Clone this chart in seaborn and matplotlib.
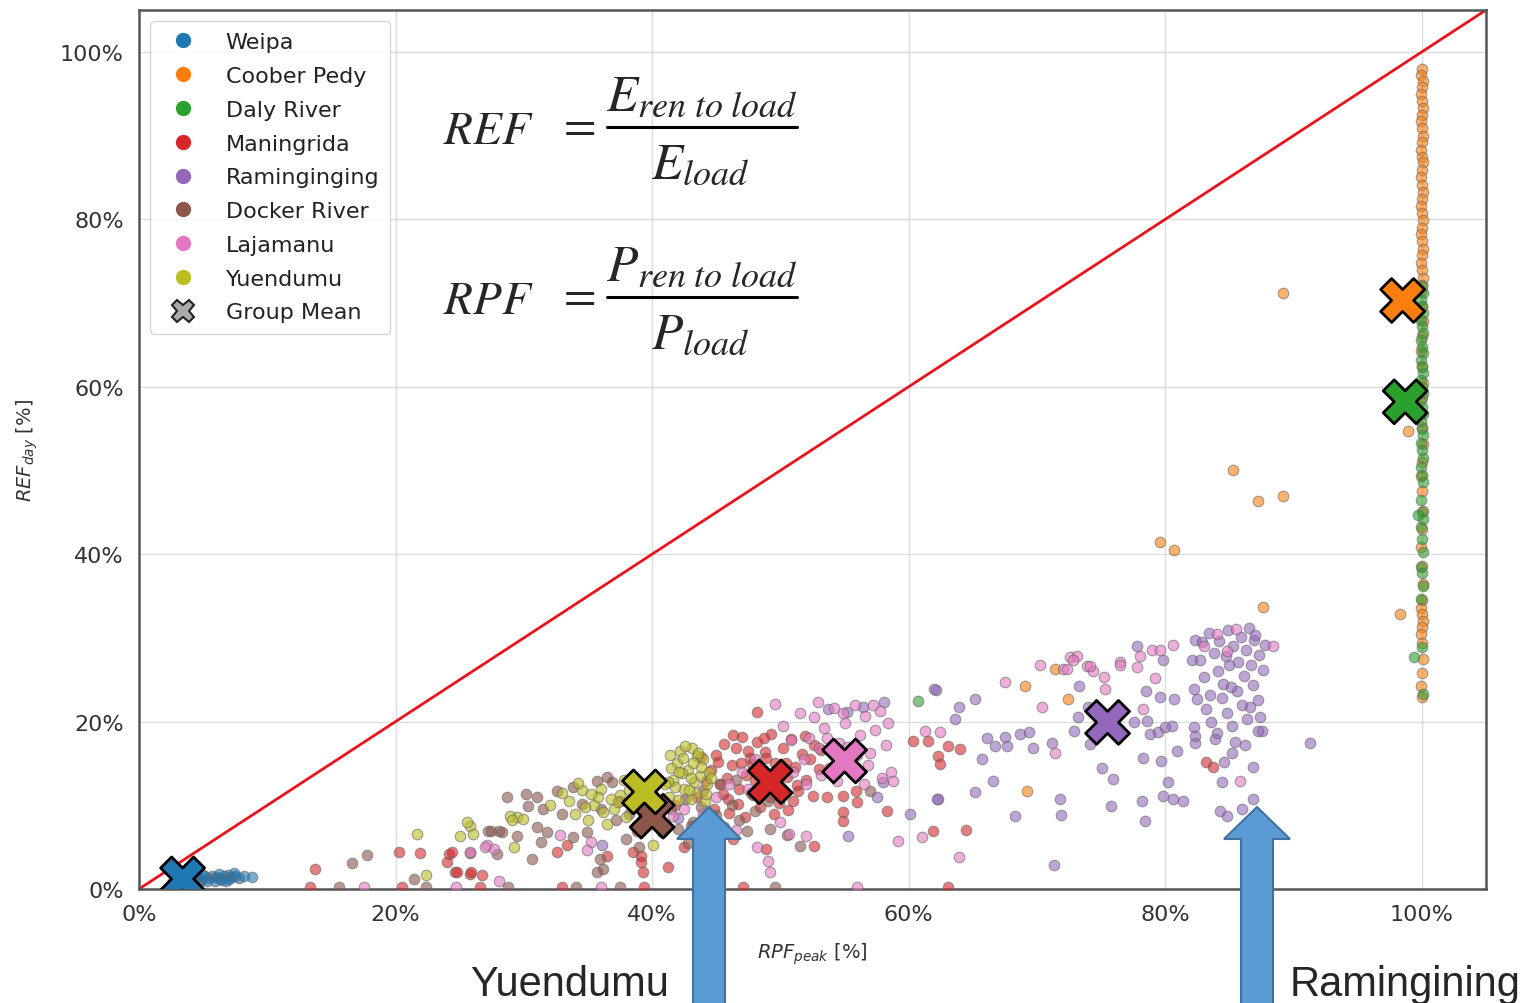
import numpy as np
import pandas as pd
import matplotlib
matplotlib.use("Agg")
import matplotlib.pyplot as plt
import seaborn as sns
from matplotlib.lines import Line2D
from matplotlib.patches import Polygon
from matplotlib.transforms import Affine2D
from matplotlib.ticker import FuncFormatter

# ---------------- data (percent) ----------------
groups = ["Weipa", "Coober Pedy", "Daly River", "Maningrida", "Raminginging",
          "Docker River", "Lajamanu", "Yuendumu"]
colors = ["#1f77b4", "#ff7f0e", "#2ca02c", "#d62728", "#9467bd",
          "#8c564b", "#e377c2", "#bcbd22"]

weipa_x = [2.6, 3.0, 3.3, 3.6, 3.9, 4.2, 4.5, 4.8, 5.1, 5.4, 5.7, 6.0, 6.3, 6.6, 6.9, 7.2, 7.5, 7.8, 8.2, 8.8,
           4.0, 4.7, 5.3, 5.9, 6.5, 7.0, 3.5, 4.4, 5.0, 6.2, 6.8, 7.4]
weipa_y = [0.7, 0.9, 1.1, 1.0, 1.3, 1.2, 1.4, 1.1, 1.5, 1.3, 1.6, 1.4, 1.2, 1.5, 1.7, 1.4, 1.6, 1.3, 1.5, 1.4,
           0.6, 0.8, 0.9, 1.0, 1.1, 1.2, 1.6, 1.8, 1.7, 1.8, 1.0, 1.9]

coober_x = [100.0, 99.9, 100.1, 100.0, 99.9, 100.0, 100.1, 100.0, 99.9, 100.0, 100.1, 100.0, 99.9, 100.0,
            100.1, 100.0, 99.9, 100.0, 100.1, 100.0, 99.9, 100.0, 100.1, 100.0, 99.9, 100.0, 100.1, 100.0,
            99.9, 100.0, 100.1, 100.0, 99.9, 100.0, 100.1, 100.0, 99.9, 100.0, 100.1, 100.0, 99.9, 100.0,
            100.1, 100.0, 99.9, 100.0, 100.1, 100.0, 99.9, 100.0, 100.1, 100.0, 99.9, 100.0, 100.1, 100.0,
            99.9, 100.0, 100.1, 100.0, 99.9, 100.0,
            89.2, 85.3, 87.2, 89.2, 79.6, 80.7, 87.6, 98.3, 98.9, 69.1, 69.2, 71.4, 72.4]
coober_y = [98.0, 97.2, 96.5, 95.8, 95.0, 94.1, 93.3, 92.5, 91.8, 90.9, 90.0, 89.2, 88.3, 87.5,
            86.8, 85.9, 85.0, 84.1, 83.3, 82.4, 81.6, 80.8, 79.9, 79.0, 78.2, 77.4, 76.5, 75.7,
            74.8, 73.9, 73.0, 72.2, 71.4, 69.5, 67.8, 66.0, 64.3, 62.5, 60.4, 58.8, 56.9, 55.2,
            53.1, 51.0, 49.3, 47.6, 45.2, 43.0, 40.9, 38.6, 36.4, 34.5, 33.6, 32.8, 32.0, 31.3,
            30.5, 29.4, 27.5, 25.8, 24.3, 22.9,
            71.2, 50.1, 46.3, 47.0, 41.4, 40.5, 33.7, 32.9, 54.7, 24.2, 11.7, 26.3, 22.7]

daly_x = [100.0, 100.1, 99.9, 100.0, 100.1, 99.9, 100.0, 100.1, 99.9, 100.0, 100.1, 99.9, 100.0, 100.1,
          99.9, 100.0, 100.1, 99.9, 100.0, 100.1, 99.9, 100.0, 100.1, 99.9, 100.0, 100.1, 99.9, 100.0,
          100.1, 99.9, 100.0, 100.1, 99.9, 100.0, 100.1, 99.9, 100.0, 100.1, 99.9, 100.0, 100.1,
          99.4, 60.7, 99.7]
daly_y = [72.0, 71.2, 70.4, 69.6, 68.8, 68.0, 67.2, 66.4, 65.6, 64.8, 64.0, 63.2, 62.4, 61.6,
          60.8, 60.0, 59.2, 58.4, 57.6, 56.8, 55.9, 55.0, 54.2, 53.3, 52.4, 51.5, 50.4, 49.5,
          48.6, 46.5, 45.0, 44.2, 43.3, 41.8, 40.2, 38.5, 37.8, 36.2, 34.6, 28.9, 23.3,
          27.7, 22.4, 44.7]

maning_x = [44.6, 45.0, 45.3, 45.6, 45.9, 46.2, 46.5, 46.8, 47.0, 47.3, 47.6, 47.9, 48.2, 48.5, 48.8, 49.0,
            49.3, 49.6, 49.9, 50.2, 50.5, 50.8, 51.1, 51.4, 51.7, 52.0, 52.3, 44.8, 46.0, 47.2, 48.4, 49.5,
            50.6, 45.5, 46.7, 48.0, 49.2, 50.0, 51.0, 47.5, 48.7, 46.3, 45.1, 50.4, 51.9, 52.6, 53.2, 53.0,
            44.2, 43.8, 45.8, 47.8, 49.7, 51.3, 46.9, 48.9,
            52.5, 53.6, 54.9, 55.9, 54.9, 54.9, 56.0, 58.3, 52.6, 48.9, 46.3, 48.2, 60.3, 61.5, 63.1, 64.0,
            62.3, 62.4, 61.9, 64.5, 83.2, 83.7,
            13.7, 20.3, 21.9, 24.2, 24.6, 25.8, 26.7, 24.4, 24.0, 24.8, 25.9, 32.6, 33.4, 36.5, 38.5, 39.1,
            39.1, 39.3, 41.2, 38.8, 42.5, 43.0, 41.8, 43.5, 40.5,
            13.3, 20.5, 26.6, 33.0, 39.4, 47.1, 63.1]
maning_y = [14.2, 16.0, 12.5, 17.3, 10.8, 14.8, 16.9, 12.0, 18.2, 13.6, 15.7, 11.2, 17.6, 14.1, 16.4, 12.6,
            18.5, 15.1, 10.3, 16.8, 13.4, 17.9, 14.6, 11.7, 16.1, 13.0, 15.5, 9.6, 9.1, 8.6, 9.8, 8.9,
            9.4, 11.4, 10.2, 13.0, 11.0, 12.0, 10.5, 16.5, 18.0, 18.4, 15.2, 15.0, 18.3, 17.2, 16.6, 14.3,
            12.9, 15.8, 13.3, 14.9, 13.9, 12.4, 15.0, 15.6,
            11.1, 11.0, 11.1, 11.7, 9.2, 8.1, 10.4, 9.3, 5.1, 4.8, 6.0, 21.2, 17.7, 17.7, 17.1, 16.7,
            15.9, 14.9, 6.9, 7.0, 15.2, 14.6,
            2.4, 4.4, 4.3, 4.2, 2.0, 1.8, 1.7, 4.4, 3.2, 2.0, 2.0, 4.4, 5.2, 4.0, 4.4, 4.0,
            3.2, 2.0, 2.6, 6.9, 5.0, 7.5, 10.0, 11.0, 7.5,
            0.2, 0.2, 0.2, 0.2, 0.2, 0.2, 0.2]

ramin_x = [82.3, 82.9, 82.1, 82.7, 82.2, 82.5, 82.2, 82.3, 83.4, 83.8, 84.1, 84.5, 84.9, 85.3, 85.7, 86.1,
           86.5, 86.9, 87.3, 87.6, 83.2, 83.6, 84.0, 84.4, 84.8, 85.2, 85.6, 86.0, 86.4, 86.8, 87.2, 87.5,
           83.0, 85.0, 86.3, 87.0, 84.2, 85.9, 86.7, 83.5, 85.4, 86.2, 87.4, 84.7, 83.9, 87.8, 86.6, 85.1,
           71.2, 71.8, 71.9, 75.1, 75.9, 75.8, 78.2, 78.4, 78.3, 79.7, 80.2, 79.8, 80.6, 81.4, 80.9, 82.3,
           84.6, 85.2, 84.4, 86.8, 86.8, 86.0, 84.3, 84.8, 91.3, 87.2, 73.3, 74.0, 73.2, 72.9, 74.1, 77.6,
           78.6, 78.8, 79.4, 80.0, 80.5, 78.5, 79.6, 80.7, 79.8, 77.8, 62.1, 63.9, 63.6, 65.2, 66.1, 66.7,
           67.5, 67.7, 68.7, 69.4, 69.7, 65.7, 66.6, 65.2, 62.3, 60.1, 68.3, 71.3, 57.5, 58.0, 55.3, 53.7,
           55.2, 56.4, 58.1, 62.0, 62.2, 36.1, 42.0]
ramin_y = [29.8, 29.5, 27.4, 27.4, 23.9, 22.7, 19.3, 18.3, 30.6, 28.2, 26.0, 24.5, 30.9, 29.0, 27.1, 25.4,
           31.2, 29.8, 27.9, 26.2, 21.5, 20.0, 18.6, 22.8, 21.0, 19.5, 23.6, 22.0, 20.3, 24.4, 22.6, 18.9,
           25.3, 26.7, 28.5, 30.4, 29.6, 30.1, 26.8, 23.2, 17.6, 17.2, 20.6, 27.8, 17.9, 29.1, 21.7, 24.1,
           17.5, 10.7, 8.8, 14.5, 13.1, 9.9, 10.5, 8.1, 15.7, 15.3, 12.8, 11.1, 10.7, 10.5, 16.5, 17.5,
           15.2, 16.3, 12.8, 14.6, 10.8, 9.5, 9.3, 8.7, 17.5, 18.9, 24.2, 21.7, 20.5, 18.9, 17.3, 19.9,
           20.1, 18.5, 18.7, 19.3, 19.5, 23.6, 22.9, 22.7, 27.4, 29.0, 23.8, 21.7, 20.3, 22.7, 18.0, 17.1,
           18.1, 17.1, 18.5, 18.7, 16.9, 15.5, 12.9, 11.6, 10.7, 8.9, 8.7, 2.9, 11.0, 12.8, 6.3, 21.5,
           21.2, 21.8, 22.3, 23.9, 10.7, 5.2, 8.5]

docker_x = [16.6, 17.8, 21.4, 25.8, 27.2, 28.1, 29.5, 28.7, 30.2, 31.0, 30.3, 31.5, 32.6, 33.8, 35.7, 36.5,
            36.9, 27.4, 28.3, 31.0, 31.8, 27.9, 30.6, 31.3, 34.9, 35.9, 36.2, 35.7, 38.0, 33.8,
            37.5, 38.2, 38.9, 39.5, 40.2, 40.8, 41.5, 42.0, 42.6, 43.2, 43.8, 44.4, 45.0, 45.6, 46.2, 46.8,
            47.4, 48.0, 44.0, 45.3, 46.5, 47.7, 51.5, 49.2, 42.8, 39.0, 37.2, 36.0, 34.5, 33.0, 57.0, 50.5,
            49.0,
            15.6, 22.4, 28.8, 34.1, 37.5, 49.6]
docker_y = [3.1, 4.1, 1.2, 4.3, 6.9, 6.9, 6.3, 11.0, 11.3, 11.0, 9.9, 9.5, 11.7, 12.2, 12.9, 13.4,
            12.8, 6.9, 6.8, 7.4, 6.8, 4.2, 3.6, 5.6, 6.8, 3.6, 2.4, 2.0, 6.0, 6.2,
            10.5, 9.0, 11.5, 7.8, 10.2, 6.8, 9.5, 7.2, 10.8, 8.0, 9.8, 6.5, 8.8, 7.4, 10.0, 8.2,
            6.9, 9.3, 11.8, 12.5, 13.0, 11.5, 5.1, 7.2, 5.5, 5.0, 8.2, 9.5, 10.2, 9.0, 11.7, 6.5,
            10.5,
            0.2, 0.2, 0.2, 0.2, 0.2, 0.2]

laja_x = [51.8, 52.2, 52.6, 53.0, 53.4, 53.8, 54.2, 54.6, 55.0, 55.4, 55.8, 56.2, 56.6, 57.0, 57.4, 57.8,
          58.2, 58.6, 53.2, 54.4, 55.6, 56.8, 57.9, 51.5, 52.9, 54.9, 56.0, 57.2, 58.4, 50.8, 50.2, 49.6,
          51.0, 52.0, 53.6, 55.2, 58.8, 56.5,
          41.6, 42.5, 43.5, 44.0, 45.0, 46.0, 47.0, 48.0, 47.5, 46.5, 50.7, 50.0, 48.2, 49.0, 49.2, 52.0,
          61.0, 59.2, 61.3, 62.4, 63.9, 27.1, 32.8, 35.2, 34.9, 28.1, 27.0, 27.7, 25.8,
          67.5, 70.2, 70.4, 72.0, 72.6, 73.1, 73.9, 74.4, 75.2, 75.3, 76.5, 78.3, 71.4, 72.3, 72.8, 74.1,
          76.5, 78.0, 79.0, 79.6, 80.6, 77.8, 79.2, 85.8, 88.4, 84.0, 85.5, 84.8, 83.0,
          17.5, 24.7, 36.0, 56.0]
laja_y = [15.5, 18.0, 20.5, 16.8, 19.2, 14.5, 21.6, 17.5, 19.8, 15.2, 22.0, 18.4, 20.7, 16.3, 19.0, 21.3,
          17.2, 14.0, 13.6, 12.9, 13.8, 14.8, 13.2, 21.0, 22.3, 21.0, 16.0, 22.0, 19.8, 17.8, 19.5, 22.1,
          14.0, 12.6, 18.0, 17.0, 12.9, 12.5,
          8.7, 9.5, 7.8, 9.0, 11.0, 12.5, 14.0, 15.5, 12.0, 7.0, 6.6, 8.0, 5.0, 3.3, 2.0, 6.3,
          6.2, 5.7, 18.9, 18.7, 3.8, 5.2, 6.4, 5.6, 4.6, 1.0, 5.0, 4.8, 4.4,
          24.7, 26.7, 21.7, 26.3, 27.7, 27.8, 26.6, 26.0, 25.3, 23.9, 27.1, 21.5, 16.3, 26.3, 27.4, 26.6,
          26.8, 27.8, 28.6, 28.6, 29.2, 26.5, 25.2, 12.9, 29.0, 30.5, 31.0, 28.4, 29.0,
          0.2, 0.2, 0.2, 0.2]

yuen_x = [41.3, 41.6, 41.9, 42.2, 42.5, 42.8, 43.1, 43.4, 43.7, 44.0, 44.3, 42.0, 43.0, 44.1, 42.6, 43.5,
          41.5, 44.4, 42.3, 43.3, 41.8, 42.4, 43.0, 43.6, 44.2, 41.4, 42.9, 43.8, 42.1, 44.6, 41.2, 43.2,
          33.5, 34.0, 34.5, 35.0, 35.5, 36.0, 36.5, 37.0, 37.5, 38.0, 38.5, 39.0, 39.5, 40.0, 40.5, 41.0,
          34.2, 35.8, 37.8, 36.8, 33.0, 32.0, 38.8, 40.6, 36.2, 37.3, 38.2, 39.2, 35.2, 34.8, 39.8, 38.6,
          29.5, 28.9, 29.9, 29.1, 25.8, 25.0, 26.0, 21.7, 22.4, 25.6, 29.2, 40.1]
yuen_y = [11.0, 13.0, 15.0, 16.5, 12.0, 14.2, 16.8, 11.5, 13.5, 15.5, 12.5, 10.6, 10.8, 10.5, 17.1, 15.9,
          14.5, 14.0, 13.8, 12.8, 12.2, 15.6, 13.2, 16.2, 11.4, 16.0, 11.8, 14.6, 14.0, 13.2, 12.8, 15.0,
          10.5, 9.0, 11.8, 8.2, 10.0, 12.0, 7.8, 9.6, 11.2, 8.6, 12.6, 10.2, 9.0, 11.6, 10.0, 12.5,
          12.7, 11.0, 13.0, 10.8, 11.5, 10.0, 7.6, 8.4, 9.2, 10.4, 11.8, 8.2, 11.4, 9.8, 12.8, 9.8,
          8.6, 8.7, 8.4, 8.3, 7.5, 6.3, 6.6, 6.6, 1.7, 8.0, 5.0, 5.2]

mean_x = [3.4, 98.5, 98.7, 49.2, 75.5, 40.0, 55.0, 39.4]
mean_y = [1.2, 70.3, 58.2, 12.8, 19.9, 8.7, 15.3, 11.6]

x_ticks = [0, 20, 40, 60, 80, 100]
y_ticks = [0, 20, 40, 60, 80, 100]

# ---------------- build frames ----------------
xs = [weipa_x, coober_x, daly_x, maning_x, ramin_x, docker_x, laja_x, yuen_x]
ys = [weipa_y, coober_y, daly_y, maning_y, ramin_y, docker_y, laja_y, yuen_y]
frames = [pd.DataFrame({"x": gx, "y": gy, "site": g}) for g, gx, gy in zip(groups, xs, ys)]
df = pd.concat(frames, ignore_index=True)
means = pd.DataFrame({"x": mean_x, "y": mean_y, "site": groups})
palette = dict(zip(groups, colors))

# ---------------- figure ----------------
sns.set_style("whitegrid")
plt.rcParams["font.family"] = ["DejaVu Sans"]
W, H = 1536, 1004
fig = plt.figure(figsize=(W / 100, H / 100), dpi=100)
ax = fig.add_axes([139 / W, 1 - 890 / H, (1486 - 139) / W, (890 - 11) / H])

for g in groups:
    sub = df[df["site"] == g]
    sns.scatterplot(data=sub, x="x", y="y", color=palette[g], s=58, alpha=0.6,
                    edgecolor="0.4", linewidth=0.8, ax=ax, legend=False, zorder=3)

ax.axline((0, 0), slope=1, color="#e8141c", lw=2.0, zorder=2)

sns.scatterplot(data=means, x="x", y="y", hue="site", palette=palette, marker="X",
                s=1000, edgecolor="black", linewidth=2, ax=ax, legend=False, zorder=5)

ax.set_xlim(0, 105)
ax.set_ylim(0, 105)
ax.set_xticks(x_ticks)
ax.set_yticks(y_ticks)
pct = FuncFormatter(lambda v, p: f"{v:.0f}%")
ax.xaxis.set_major_formatter(pct)
ax.yaxis.set_major_formatter(pct)
ax.tick_params(axis="both", direction="out", length=6, width=1.3, color="#555555",
               labelsize=16, labelcolor="#333333", pad=5)
ax.grid(True, color="#dcdcdc", lw=1)
for sp in ax.spines.values():
    sp.set_color("#555555")
    sp.set_linewidth(1.8)

ax.set_xlabel(r"$RPF_{peak}$ [%]", fontsize=14, color="#333333", labelpad=12)
ax.set_ylabel(r"$REF_{day}$ [%]", fontsize=14, color="#333333", labelpad=14)

handles = [Line2D([], [], marker="o", linestyle="", markersize=10, markerfacecolor=c,
                  markeredgecolor=c) for c in colors]
handles.append(Line2D([], [], marker="X", linestyle="", markersize=16, markerfacecolor="#aaaaaa",
                      markeredgecolor="#222222", markeredgewidth=1.5))
labels = groups + ["Group Mean"]
leg = ax.legend(handles, labels, loc="upper left", fontsize=16, labelspacing=0.62,
                handletextpad=0.9, borderpad=0.5, frameon=True, fancybox=True)
leg.get_frame().set_edgecolor("#cccccc")
leg.get_frame().set_linewidth(1)
for t in leg.get_texts():
    t.set_color("#222222")

# ---------------- equations (pixel layout) ----------------
px = Affine2D().scale(1 / W, -1 / H).translate(0, 1) + fig.transFigure


def equation(lhs, num, den, yc):
    fig.text(443, yc + 16, lhs, transform=px, fontsize=34, math_fontfamily="stix",
             ha="left", va="baseline")
    fig.text(576, yc + 11, r"$=$", transform=px, fontsize=34, math_fontfamily="stix",
             ha="center", va="baseline")
    fig.text(702, yc - 17, num, transform=px, fontsize=37, math_fontfamily="stix",
             ha="center", va="baseline")
    fig.text(700, yc + 51, den, transform=px, fontsize=37, math_fontfamily="stix",
             ha="center", va="baseline")
    fig.add_artist(Line2D([607, 797], [yc, yc], color="black", lw=2.2, transform=px))


equation(r"$REF$", r"$E_{ren\ to\ load}$", r"$E_{load}$", 128)
equation(r"$RPF$", r"$P_{ren\ to\ load}$", r"$P_{load}$", 298)

# ---------------- annotation arrows and labels ----------------


def block_arrow(tx, ty, hw, sw, hl, yb):
    verts = [(tx, ty), (tx + hw, ty + hl), (tx + sw, ty + hl), (tx + sw, yb),
             (tx - sw, yb), (tx - sw, ty + hl), (tx - hw, ty + hl)]
    fig.add_artist(Polygon(verts, closed=True, facecolor="#5b9bd5", edgecolor="#41719c",
                           lw=1.5, transform=px, zorder=10, clip_on=False))


block_arrow(709, 808, 32, 16, 32, 1010)
block_arrow(1257, 808, 33, 16, 32, 1010)

fig.text(470 / W, 1 - 996 / H, "Yuendumu", fontsize=30, family="Liberation Sans",
         ha="left", va="baseline")
fig.text(1290 / W, 1 - 996 / H, "Ramingining", fontsize=30, family="Liberation Sans",
         ha="left", va="baseline")

fig.savefig("out.png", dpi=100)
